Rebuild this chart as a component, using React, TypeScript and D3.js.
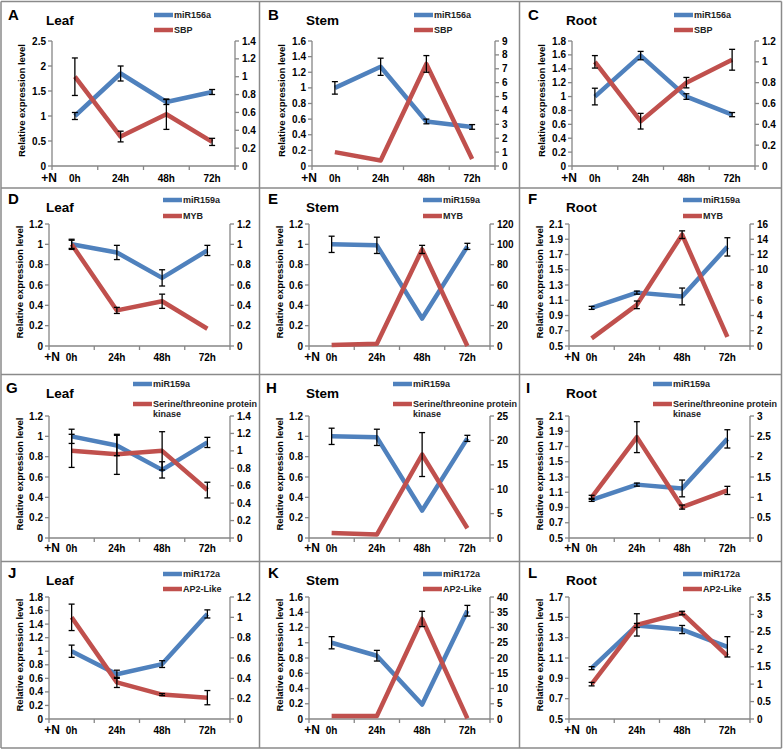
import React from "react";
import * as d3 from "d3";

// ---------- categories & labels ----------
const timepoints = ["0h", "24h", "48h", "72h"];
const panelLetters = ["A", "B", "C", "D", "E", "F", "G", "H", "I", "J", "K", "L"];
const tissues = ["Leaf", "Stem", "Root"];
const mirNames = ["miR156a", "miR159a", "miR159a", "miR172a"];
const targetNames = ["SBP", "MYB", "Serine/threonine protein kinase", "AP2-Like"];

// ---------- series values (miRNA = left axis, target = right axis) ----------
const mirA = [1.0, 1.85, 1.28, 1.48];
const mirErrA = [0.07, 0.15, 0.05, 0.05];
const tgtA = [1.0, 0.33, 0.58, 0.27];
const tgtErrA = [0.21, 0.06, 0.17, 0.04];

const mirB = [1.0, 1.27, 0.57, 0.5];
const mirErrB = [0.08, 0.11, 0.03, 0.03];
const tgtB = [1.0, 0.4, 7.35, 0.5];
const tgtErrB = [0, 0, 0.6, 0];

const mirC = [1.0, 1.59, 1.0, 0.74];
const mirErrC = [0.12, 0.06, 0.04, 0.03];
const tgtC = [1.0, 0.43, 0.8, 1.02];
const tgtErrC = [0.06, 0.075, 0.05, 0.1];

const mirD = [1.0, 0.92, 0.67, 0.94];
const mirErrD = [0.05, 0.07, 0.08, 0.05];
const tgtD = [1.0, 0.35, 0.44, 0.17];
const tgtErrD = [0.04, 0.03, 0.07, 0];

const mirE = [1.0, 0.99, 0.27, 0.98];
const mirErrE = [0.08, 0.08, 0, 0.03];
const tgtE = [1.0, 2.3, 95, 0];
const tgtErrE = [0, 0, 4, 0];

const mirF = [1.0, 1.2, 1.15, 1.8];
const mirErrF = [0.02, 0.02, 0.11, 0.12];
const tgtF = [1.0, 5.4, 14.6, 1.2];
const tgtErrF = [0, 0.5, 0.5, 0];

const mirG = [1.0, 0.91, 0.67, 0.94];
const mirErrG = [0.07, 0.1, 0.08, 0.05];
const tgtG = [1.0, 0.96, 1.0, 0.55];
const tgtErrG = [0.19, 0.23, 0.22, 0.09];

const mirH = [1.0, 0.99, 0.27, 0.98];
const mirErrH = [0.08, 0.08, 0, 0.03];
const tgtH = [1.0, 0.7, 17.1, 2.0];
const tgtErrH = [0, 0, 4.5, 0];

const mirI = [1.0, 1.2, 1.15, 1.8];
const mirErrI = [0.02, 0.02, 0.11, 0.12];
const tgtI = [1.0, 2.48, 0.76, 1.17];
const tgtErrI = [0.05, 0.38, 0.05, 0.1];

const mirJ = [1.0, 0.66, 0.81, 1.55];
const mirErrJ = [0.09, 0.06, 0.05, 0.06];
const tgtJ = [1.0, 0.36, 0.24, 0.21];
const tgtErrJ = [0.13, 0.05, 0.01, 0.07];

const mirK = [1.0, 0.83, 0.19, 1.42];
const mirErrK = [0.08, 0.07, 0, 0.07];
const tgtK = [1.0, 1.0, 32.8, 0.2];
const tgtErrK = [0, 0, 2.5, 0];

const mirL = [1.0, 1.42, 1.38, 1.21];
const mirErrL = [0.015, 0.02, 0.04, 0.1];
const tgtL = [1.0, 2.7, 3.04, 1.81];
const tgtErrL = [0.05, 0.32, 0.05, 0];

const mirSeries = [mirA, mirB, mirC, mirD, mirE, mirF, mirG, mirH, mirI, mirJ, mirK, mirL];
const mirErrors = [mirErrA, mirErrB, mirErrC, mirErrD, mirErrE, mirErrF, mirErrG, mirErrH, mirErrI, mirErrJ, mirErrK, mirErrL];
const tgtSeries = [tgtA, tgtB, tgtC, tgtD, tgtE, tgtF, tgtG, tgtH, tgtI, tgtJ, tgtK, tgtL];
const tgtErrors = [tgtErrA, tgtErrB, tgtErrC, tgtErrD, tgtErrE, tgtErrF, tgtErrG, tgtErrH, tgtErrI, tgtErrJ, tgtErrK, tgtErrL];

// ---------- axis ranges [min, max, step] ----------
const leftAxes = [
  [0, 2.5, 0.5], [0, 1.6, 0.2], [0, 1.8, 0.2],
  [0, 1.2, 0.2], [0, 1.2, 0.2], [0.5, 2.1, 0.2],
  [0, 1.2, 0.2], [0, 1.2, 0.2], [0.5, 2.1, 0.2],
  [0, 1.8, 0.2], [0, 1.6, 0.2], [0.5, 1.7, 0.2],
];
const rightAxes = [
  [0, 1.4, 0.2], [0, 9, 1], [0, 1.2, 0.2],
  [0, 1.2, 0.2], [0, 120, 20], [0, 16, 2],
  [0, 1.4, 0.2], [0, 25, 5], [0, 3, 0.5],
  [0, 1.2, 0.2], [0, 40, 5], [0, 3.5, 0.5],
];

// ---------- layout ----------
const W = 783;
const H = 750;
const FONT = "'Liberation Sans', Arial, Helvetica, sans-serif";
const BLUE = "#4F81BD";
const RED = "#C0504D";
const AXIS = "#868686";
const BORDER = "#8a8a8a";
const colX = [0, 260, 520];
const rows = [
  { top: 0, pT: 41, pB: 166, aL: 52, aR: 235, letterY: 20, titleY: 25, legX: 154, legY: [15, 30], xlY: 178, plusDx: -3, ytX: 22 },
  { top: 188, pT: 36, pB: 158, aL: 49, aR: 230, letterY: 16, titleY: 24, legX: 163, legY: [12, 28], xlY: 169, plusDx: 3, ytX: 20 },
  { top: 375, pT: 41, pB: 163, aL: 49, aR: 230, letterY: 18, titleY: 23, legX: 133, legY: [9, 29], xlY: 173, plusDx: 3, ytX: 20 },
  { top: 562, pT: 35, pB: 157, aL: 49, aR: 230, letterY: 16, titleY: 23, legX: 163, legY: [12, 27], xlY: 168, plusDx: 3, ytX: 20 },
];

const fmt = (v: number) => String(+v.toFixed(3));
const ticksOf = (a: number[]) => d3.range(0, Math.round((a[1] - a[0]) / a[2]) + 1).map((i) => +(a[0] + i * a[2]).toFixed(4));

function Panel({ idx }: { idx: number }) {
  const r = Math.floor(idx / 3);
  const c = idx % 3;
  const L = rows[r];
  const ox = colX[c];
  const oy = L.top;
  const la = leftAxes[idx];
  const ra = rightAxes[idx];
  const x = d3.scaleBand().domain(timepoints).range([L.aL, L.aR]);
  const cx = (t: string) => (x(t) as number) + x.bandwidth() / 2;
  const yL = d3.scaleLinear().domain([la[0], la[1]]).range([L.pB, L.pT]);
  const yR = d3.scaleLinear().domain([ra[0], ra[1]]).range([L.pB, L.pT]);
  const mir = mirSeries[idx];
  const tgt = tgtSeries[idx];
  const lineL = d3.line<number>().x((_, i) => cx(timepoints[i])).y((d) => yL(d));
  const lineR = d3.line<number>().x((_, i) => cx(timepoints[i])).y((d) => yR(d));
  const targetName = targetNames[r];
  const twoLine = targetName.length > 20;
  const bounds = [L.aL, ...timepoints.map((t) => (x(t) as number) + x.bandwidth())];

  const errBar = (xv: number, y: (v: number) => number, v: number, e: number, k: string) => {
    if (!e) return null;
    const y1 = y(v + e), y2 = y(v - e);
    return (
      <g key={k} stroke="#000" strokeWidth={1.3}>
        <line x1={xv} x2={xv} y1={y1} y2={y2} />
        <line x1={xv - 3} x2={xv + 3} y1={y1} y2={y1} />
        <line x1={xv - 3} x2={xv + 3} y1={y2} y2={y2} />
      </g>
    );
  };

  return (
    <g transform={`translate(${ox},${oy})`} fontFamily={FONT} fontWeight="bold">
      <text x={r === 2 ? 6 : 8} y={L.letterY} fontSize={15}>{panelLetters[idx]}</text>
      <text x={46} y={L.titleY} fontSize={13.5}>{tissues[c]}</text>
      {/* legend */}
      <line x1={L.legX} x2={L.legX + 19} y1={L.legY[0]} y2={L.legY[0]} stroke={BLUE} strokeWidth={4.5} />
      <text x={L.legX + 20} y={L.legY[0]} dy="0.35em" fontSize={9} fill="#222">{mirNames[r]}</text>
      <line x1={L.legX} x2={L.legX + 19} y1={L.legY[1]} y2={L.legY[1]} stroke={RED} strokeWidth={4.5} />
      {twoLine ? (
        <text x={L.legX + 20} y={L.legY[1]} dy="0.35em" fontSize={9} fill="#222">
          <tspan>Serine/threonine protein</tspan>
          <tspan x={L.legX + 20} dy="1.05em">kinase</tspan>
        </text>
      ) : (
        <text x={L.legX + 20} y={L.legY[1]} dy="0.35em" fontSize={9} fill="#222">{targetName}</text>
      )}
      {/* axes */}
      <g stroke={AXIS} strokeWidth={1.3}>
        <line x1={L.aL} x2={L.aL} y1={L.pT} y2={L.pB} />
        <line x1={L.aR} x2={L.aR} y1={L.pT} y2={L.pB} />
        <line x1={L.aL} x2={L.aR} y1={L.pB} y2={L.pB} />
        {ticksOf(la).map((v) => (
          <line key={"lt" + v} x1={L.aL - 4} x2={L.aL} y1={yL(v)} y2={yL(v)} />
        ))}
        {ticksOf(ra).map((v) => (
          <line key={"rt" + v} x1={L.aR} x2={L.aR + 4} y1={yR(v)} y2={yR(v)} />
        ))}
        {bounds.map((b, i) => (
          <line key={"xt" + i} x1={b} x2={b} y1={L.pB} y2={L.pB + 4} />
        ))}
      </g>
      {ticksOf(la).map((v) => (
        <text key={"ll" + v} x={L.aL - 6} y={yL(v)} dy="0.35em" textAnchor="end" fontSize={10}>{fmt(v)}</text>
      ))}
      {ticksOf(ra).map((v) => (
        <text key={"rl" + v} x={L.aR + 7} y={yR(v)} dy="0.35em" textAnchor="start" fontSize={10}>{fmt(v)}</text>
      ))}
      <text transform={`translate(${L.ytX},${(L.pT + L.pB) / 2 - 3}) rotate(-90)`} textAnchor="middle" dy="0.35em" fontSize={9.5}>
        Relative expression level
      </text>
      <text x={L.aL + L.plusDx} y={L.xlY} dy="0.35em" textAnchor="middle" fontSize={12}>+N</text>
      {timepoints.map((t) => (
        <text key={"xl" + t} x={cx(t)} y={L.xlY} dy="0.35em" textAnchor="middle" fontSize={10}>{t}</text>
      ))}
      {/* series */}
      <path d={lineL(mir) || ""} fill="none" stroke={BLUE} strokeWidth={4.5} strokeLinejoin="round" />
      <path d={lineR(tgt) || ""} fill="none" stroke={RED} strokeWidth={4.5} strokeLinejoin="round" />
      {mir.map((v, i) => errBar(cx(timepoints[i]), yL, v, mirErrors[idx][i], "me" + i))}
      {tgt.map((v, i) => errBar(cx(timepoints[i]), yR, v, tgtErrors[idx][i], "te" + i))}
    </g>
  );
}

export default function App() {
  const vLines = [1, 259.5, 519.5, 781.5];
  const hLines = [1.5, 188, 374.5, 561.5, 748];
  return (
    <svg width={W} height={H} style={{ position: "absolute", left: 0, top: 0, background: "#fff" }}>
      <rect width={W} height={H} fill="#fff" />
      <g stroke={BORDER} strokeWidth={1.5}>
        {vLines.map((v) => (
          <line key={"v" + v} x1={v} x2={v} y1={hLines[0]} y2={hLines[hLines.length - 1]} />
        ))}
        {hLines.map((h) => (
          <line key={"h" + h} x1={vLines[0]} x2={vLines[vLines.length - 1]} y1={h} y2={h} />
        ))}
      </g>
      {panelLetters.map((_, i) => (
        <Panel key={i} idx={i} />
      ))}
    </svg>
  );
}
